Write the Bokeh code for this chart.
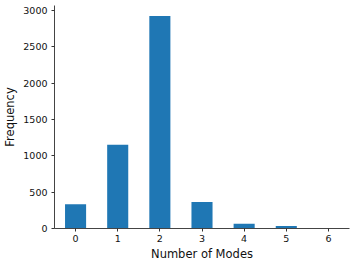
from bokeh.plotting import figure
from bokeh.models import FixedTicker, Range1d
from bokeh.embed import file_html
from bokeh.resources import INLINE

modes = [0, 1, 2, 3, 4, 5, 6]
counts = [332, 1152, 2920, 364, 64, 36, 5]
y_ticks = [0, 500, 1000, 1500, 2000, 2500, 3000]

p = figure(width=356, height=264, output_backend="svg", toolbar_location=None,
           x_range=Range1d(-0.5, 6.5), y_range=Range1d(0, 3066),
           min_border_left=52, min_border_right=7, min_border_top=5, min_border_bottom=36)

p.vbar(x=modes, top=counts, width=0.5, color="#1f77b4", line_color=None)

p.grid.visible = False
p.outline_line_color = None
p.xaxis.ticker = FixedTicker(ticks=modes)
p.yaxis.ticker = FixedTicker(ticks=y_ticks)
p.xaxis.axis_label = "Number of Modes"
p.yaxis.axis_label = "Frequency"
for ax in (p.xaxis[0], p.yaxis[0]):
    ax.axis_line_color = "#444444"
    ax.axis_line_width = 1
    ax.major_tick_line_color = "#333333"
    ax.major_tick_out = 3
    ax.major_tick_in = 0
    ax.minor_tick_line_color = None
    ax.major_label_text_font = "DejaVu Sans"
    ax.major_label_text_font_size = "9.5px"
    ax.major_label_text_color = "#111111"
    ax.axis_label_text_font = "DejaVu Sans"
    ax.axis_label_text_font_size = "11.5px"
    ax.axis_label_text_font_style = "normal"
    ax.axis_label_text_color = "#111111"
p.xaxis.major_label_standoff = 3
p.xaxis.axis_label_standoff = 2
p.yaxis.major_label_standoff = 4
p.yaxis.axis_label_standoff = 3

open("out.html", "w").write(file_html(p, INLINE))
